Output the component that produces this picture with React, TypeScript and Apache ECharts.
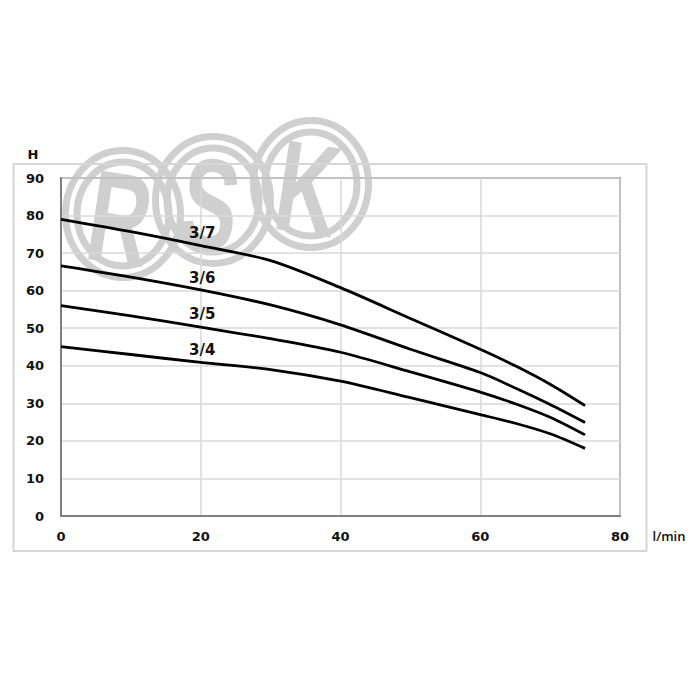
import React, { useEffect, useRef } from "react";
import * as echarts from "echarts";

const flowValues = [0, 10, 20, 30, 40, 50, 60, 65, 70, 75];
const curve37 = [79.0, 75.7, 72.0, 68.0, 60.8, 52.6, 44.4, 40.0, 35.1, 29.4];
const curve36 = [66.6, 63.6, 60.2, 56.2, 50.9, 44.4, 38.2, 34.1, 29.7, 24.9];
const curve35 = [56.0, 53.3, 50.3, 47.2, 43.6, 38.4, 33.0, 29.9, 26.3, 21.6];
const curve34 = [45.1, 43.0, 40.9, 39.0, 35.9, 31.5, 27.0, 24.7, 21.9, 18.0];
const seriesNames = ["3/7", "3/6", "3/5", "3/4"];
const labelX = [20.2, 20.2, 20.2, 20.2];
const labelY = [75.3, 63.3, 53.8, 44.2];
const yTicks = { min: 0, max: 90, step: 10 };
const xTicks = { min: 0, max: 80, step: 20 };
const yAxisTitle = "H";
const xAxisTitle = "l/min";
const logoLetters = ["R", "S", "K"];

const allCurves = [curve37, curve36, curve35, curve34];

export default function App() {
  const ref = useRef<HTMLDivElement>(null);
  useEffect(() => {
    if (!ref.current) return;
    const chart = echarts.init(ref.current, null, { renderer: "svg" });
    const wmColor = "#cfcfcf";
    const logoCenters = [
      [123, 214],
      [213, 200],
      [311, 184],
    ];
    const logoGraphics: any[] = [];
    logoCenters.forEach((c, i) => {
      logoGraphics.push({
        type: "ellipse",
        z: -10,
        shape: { cx: c[0], cy: c[1], rx: 57.5, ry: 63.5 },
        style: { fill: "none", stroke: wmColor, lineWidth: 7 },
        silent: true,
      });
      logoGraphics.push({
        type: "ellipse",
        z: -10,
        shape: { cx: c[0], cy: c[1], rx: 46, ry: 52 },
        style: { fill: "none", stroke: wmColor, lineWidth: 7 },
        silent: true,
      });
      logoGraphics.push({
        type: "text",
        z: -9,
        x: c[0] - 3,
        y: c[1] + 4,
        rotation: -0.15,
        scaleX: 0.74,
        scaleY: 1.12,
        silent: true,
        style: {
          text: logoLetters[i],
          fill: wmColor,
          fontSize: 116,
          fontWeight: "bold",
          fontFamily: "Liberation Sans",
          align: "center",
          verticalAlign: "middle",
        },
      });
    });

    const fontFam = "'DejaVu Sans', Verdana, sans-serif";

    chart.setOption({
      animation: false,
      backgroundColor: "#ffffff",
      grid: {
        left: 61,
        right: 80,
        top: 178,
        bottom: 184,
        show: true,
        borderColor: "#7f7f7f",
        borderWidth: 2,
        backgroundColor: "transparent",
        containLabel: false,
      },
      xAxis: {
        type: "value",
        min: xTicks.min,
        max: xTicks.max,
        interval: xTicks.step,
        axisLine: { show: true, lineStyle: { color: "#7f7f7f", width: 2 } },
        axisTick: { show: false },
        axisLabel: {
          color: "#111",
          fontFamily: fontFam,
          fontWeight: "bold",
          fontSize: 13,
          margin: 14,
        },
        splitLine: { show: true, lineStyle: { color: "#d9d9d9", width: 1.5 } },
      },
      yAxis: {
        type: "value",
        min: yTicks.min,
        max: yTicks.max,
        interval: yTicks.step,
        axisLine: { show: true, lineStyle: { color: "#7f7f7f", width: 2 } },
        axisTick: { show: false },
        axisLabel: {
          color: "#111",
          fontFamily: fontFam,
          fontWeight: "bold",
          fontSize: 13,
          margin: 17,
        },
        splitLine: { show: true, lineStyle: { color: "#d9d9d9", width: 1.5 } },
      },
      graphic: [
        ...logoGraphics,
        {
          type: "rect",
          z: -5,
          silent: true,
          shape: { x: 13.5, y: 164, width: 633, height: 387 },
          style: { fill: "none", stroke: "#d6d6d6", lineWidth: 2 },
        },
        {
          type: "text",
          x: 33,
          y: 154,
          style: {
            text: yAxisTitle,
            fill: "#111",
            fontSize: 13,
            fontWeight: "bold",
            fontFamily: "DejaVu Sans",
            align: "center",
            verticalAlign: "middle",
          },
        },
        {
          type: "text",
          x: 669,
          y: 536,
          style: {
            text: xAxisTitle,
            fill: "#111",
            fontSize: 13,
            fontWeight: 600,
            fontFamily: "Open Sans",
            align: "center",
            verticalAlign: "middle",
          },
        },
      ],
      series: allCurves.map((curve, i) => ({
        name: seriesNames[i],
        type: "line",
        data: flowValues.map((x, j) => [x, curve[j]]),
        smooth: 0.3,
        showSymbol: false,
        symbol: "none",
        z: 5,
        lineStyle: { color: "#000", width: 2.8 },
        markPoint: {
          symbol: "rect",
          symbolSize: 1,
          itemStyle: { color: "rgba(0,0,0,0)" },
          label: {
            show: true,
            position: "inside",
            formatter: seriesNames[i],
            color: "#111",
            fontFamily: fontFam,
            fontWeight: "bold",
            fontSize: 15,
          },
          data: [{ coord: [labelX[i], labelY[i]] }],
        },
      })),
    });
    return () => chart.dispose();
  }, []);
  return (
    <div
      ref={ref}
      style={{ position: "absolute", left: 0, top: 0, width: 700, height: 700 }}
    />
  );
}
